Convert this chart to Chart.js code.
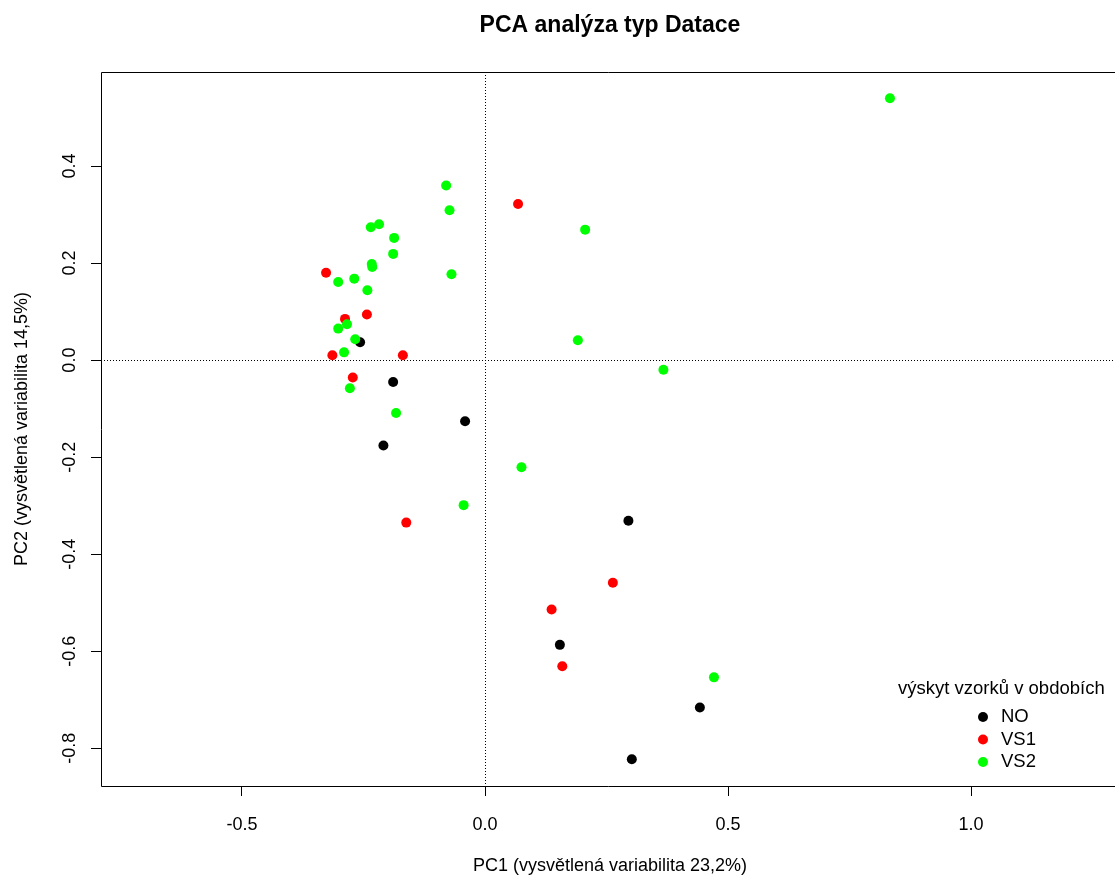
<!DOCTYPE html>
<html>
<head>
<meta charset="utf-8">
<script src="https://cdn.jsdelivr.net/npm/chart.js@4"></script>
<style>
  html, body { margin: 0; padding: 0; background: #fff; overflow: hidden; }
  #pcaChart { display: block; width: 1115px; height: 877px; }
</style>
</head>
<body>
<canvas id="pcaChart" width="1115" height="877"></canvas>
<script>
const chartTitle = "PCA analýza typ Datace";
const xTitle = "PC1 (vysvětlená variabilita 23,2%)";
const yTitle = "PC2 (vysvětlená variabilita 14,5%)";
const legendTitle = "výskyt vzorků v obdobích";

const categories = ["NO", "VS1", "VS2"];
const colors = ["#000000", "#ff0000", "#00ff00"];

const noPC1 = [-0.257, -0.189, -0.041, -0.209, 0.295, 0.154, 0.442, 0.302];
const noPC2 = [0.037, -0.045, -0.126, -0.176, -0.331, -0.587, -0.716, -0.823];

const vs1PC1 = [0.068, -0.327, -0.243, -0.288, -0.314, -0.169, -0.272, -0.162, 0.263, 0.137, 0.159];
const vs1PC2 = [0.322, 0.180, 0.094, 0.085, 0.010, 0.010, -0.036, -0.335, -0.459, -0.514, -0.631];

const vs2PC1 = [0.833, -0.080, -0.073, 0.206, -0.235, -0.218, -0.187, -0.189, -0.233, -0.232,
  -0.069, -0.302, -0.269, -0.242, -0.302, -0.284, -0.267, -0.290, -0.278, -0.183,
  0.191, 0.367, 0.075, -0.044, 0.471];
const vs2PC2 = [0.540, 0.360, 0.309, 0.269, 0.274, 0.280, 0.252, 0.219, 0.198, 0.192,
  0.177, 0.161, 0.168, 0.144, 0.065, 0.074, 0.043, 0.016, -0.058, -0.109,
  0.041, -0.020, -0.221, -0.299, -0.654];

const xTicks = [-0.5, 0.0, 0.5, 1.0];
const yTicks = [-0.8, -0.6, -0.4, -0.2, 0.0, 0.2, 0.4];

const FONT = '"Liberation Sans", Arial, sans-serif';

function toPoints(xs, ys) {
  return xs.map((x, i) => ({ x: x, y: ys[i] }));
}

const seriesX = [noPC1, vs1PC1, vs2PC1];
const seriesY = [noPC2, vs1PC2, vs2PC2];

const datasets = categories.map((name, i) => ({
  label: name,
  data: toPoints(seriesX[i], seriesY[i]),
  backgroundColor: colors[i],
  borderColor: colors[i],
  borderWidth: 0,
  pointRadius: 5,
  pointHoverRadius: 5,
  order: categories.length - i,
}));

// frame (the right side falls outside the picture), zero lines, titles, rotated y labels, legend
const decorations = {
  id: "decorations",
  beforeDatasetsDraw(chart) {
    const { ctx, chartArea: a, scales } = chart;
    const x0 = Math.round(scales.x.getPixelForValue(0)) + 0.5;
    const y0 = Math.round(scales.y.getPixelForValue(0)) + 0.5;
    ctx.save();
    ctx.strokeStyle = "#000";
    ctx.lineWidth = 1;
    ctx.setLineDash([1, 2]);
    ctx.beginPath();
    ctx.moveTo(x0, a.top);
    ctx.lineTo(x0, a.bottom);
    ctx.moveTo(a.left, y0);
    ctx.lineTo(a.right, y0);
    ctx.stroke();
    ctx.restore();
  },
  afterDraw(chart) {
    const { ctx, chartArea: a, scales } = chart;
    ctx.save();
    ctx.strokeStyle = "#000";
    ctx.lineWidth = 1;
    ctx.beginPath();
    ctx.moveTo(a.right, a.top + 0.5);
    ctx.lineTo(a.left + 0.5, a.top + 0.5);
    ctx.lineTo(a.left + 0.5, a.bottom + 0.5);
    ctx.lineTo(a.right, a.bottom + 0.5);
    ctx.stroke();

    const cx = a.left + (a.right + 4 - a.left) / 2;
    ctx.fillStyle = "#000";
    ctx.textAlign = "center";
    ctx.textBaseline = "middle";
    ctx.font = "bold 23px " + FONT;
    ctx.fillText(chartTitle, cx, 26);

    ctx.font = "18px " + FONT;
    ctx.fillText(xTitle, cx, 866);

    ctx.save();
    ctx.translate(22, (a.top + a.bottom) / 2);
    ctx.rotate(-Math.PI / 2);
    ctx.fillText(yTitle, 0, 0);
    ctx.restore();

    yTicks.forEach(v => {
      const py = scales.y.getPixelForValue(v);
      ctx.save();
      ctx.translate(70, py);
      ctx.rotate(-Math.PI / 2);
      ctx.fillText(v.toFixed(1), 0, 0);
      ctx.restore();
    });

    // legend
    ctx.font = "18.5px " + FONT;
    ctx.textAlign = "left";
    ctx.fillText(legendTitle, 898, 689);
    chart.data.datasets.forEach((ds, i) => {
      const ly = 717 + i * 22.5;
      ctx.beginPath();
      ctx.fillStyle = ds.backgroundColor;
      ctx.arc(983, ly, 5, 0, Math.PI * 2);
      ctx.fill();
      ctx.fillStyle = "#000";
      ctx.fillText(ds.label, 1001, ly);
    });
    ctx.restore();
  },
};

const options = {
  responsive: false,
  maintainAspectRatio: false,
  animation: false,
  layout: { autoPadding: false, padding: { top: 72, right: 0, left: 0, bottom: 0 } },
  scales: {
    x: {
      type: "linear",
      min: -0.79,
      max: 1.296,
      afterBuildTicks: (scale) => { scale.ticks = xTicks.map(v => ({ value: v })); },
      afterFit: (scale) => {
        scale.height = 91;
        scale.paddingLeft = 0;
        scale.paddingRight = 0;
      },
      grid: { drawOnChartArea: false, drawTicks: true, tickLength: 10, tickColor: "#000", tickWidth: 1 },
      border: { display: false },
      ticks: {
        color: "#000",
        padding: 18,
        maxRotation: 0,
        font: { family: FONT, size: 18 },
        callback: (v) => Number(v).toFixed(1),
      },
    },
    y: {
      type: "linear",
      min: -0.878,
      max: 0.594,
      afterBuildTicks: (scale) => { scale.ticks = yTicks.map(v => ({ value: v })); },
      afterFit: (scale) => {
        scale.width = 101;
        scale.paddingTop = 0;
        scale.paddingBottom = 0;
      },
      grid: { drawOnChartArea: false, drawTicks: true, tickLength: 10, tickColor: "#000", tickWidth: 1 },
      border: { display: false },
      ticks: { display: false },
    },
  },
  plugins: {
    legend: { display: false },
    title: { display: false },
    tooltip: { enabled: false },
  },
};

new Chart(document.getElementById("pcaChart").getContext("2d"), {
  type: "scatter",
  data: { datasets: datasets },
  options: options,
  plugins: [decorations],
});
</script>
</body>
</html>
